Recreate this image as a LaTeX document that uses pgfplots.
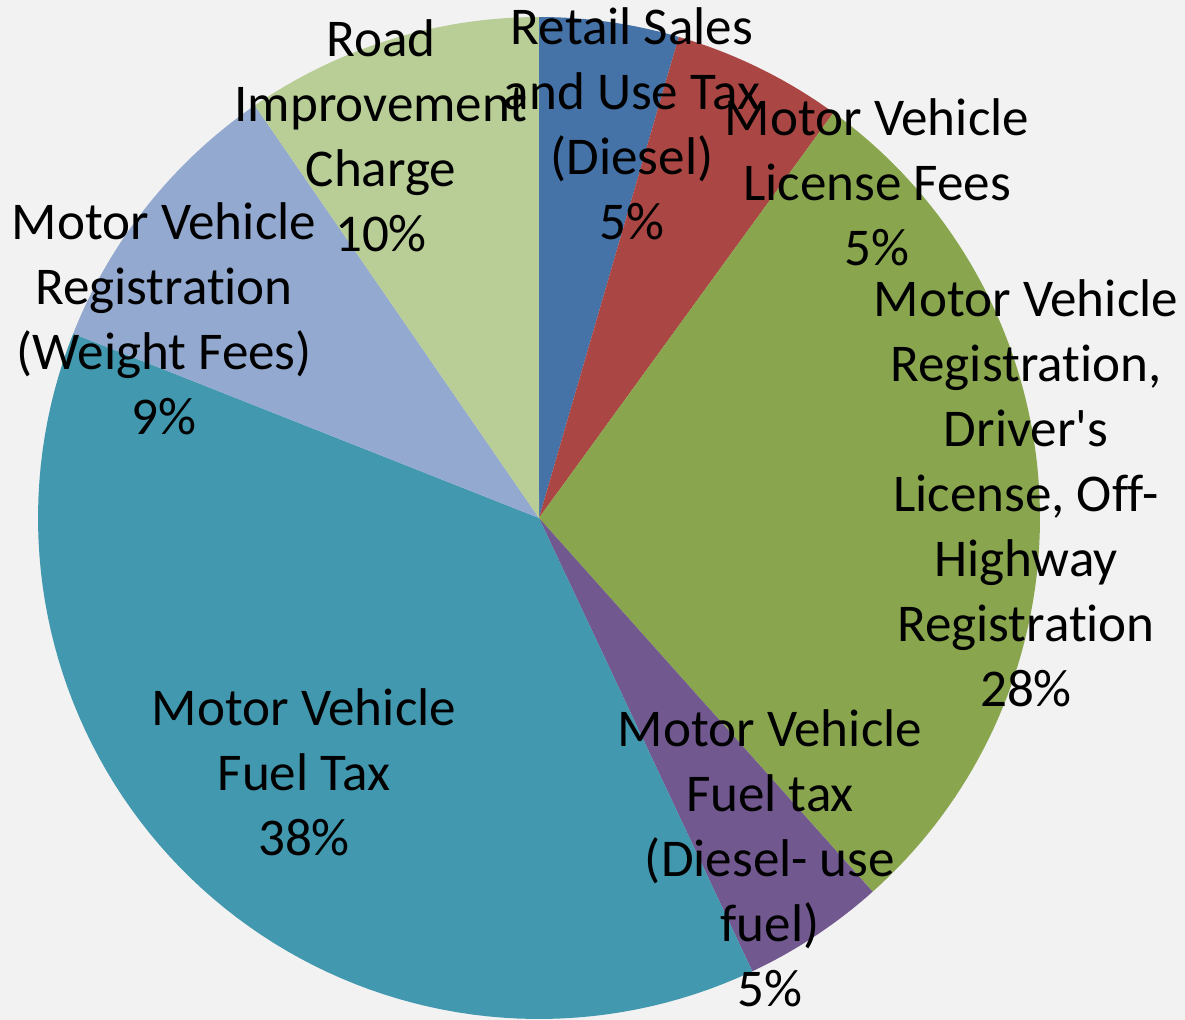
\documentclass[border=0pt]{standalone}
\usepackage{fontspec}
\setmainfont{Carlito}[Ligatures=NoCommon]
\usepackage{pgfplots}
\pgfplotsset{compat=1.18}
\definecolor{bg}{HTML}{F2F2F2}
\definecolor{cA}{HTML}{4572A7}
\definecolor{cB}{HTML}{AA4643}
\definecolor{cC}{HTML}{89A54E}
\definecolor{cD}{HTML}{71588F}
\definecolor{cE}{HTML}{4198AF}
\definecolor{cF}{HTML}{93A9CF}
\definecolor{cG}{HTML}{B9CD96}
\tikzset{lbl/.style={font=\fontsize{53.1bp}{65bp}\selectfont, align=center, inner sep=0pt, text=black}}
\begin{document}
\begin{tikzpicture}
\path[use as bounding box, fill=bg] (0,0) rectangle (1185bp,1020bp);
\begin{axis}[
  at={(0,0)}, anchor=south west,
  width=1185bp, height=1020bp, scale only axis,
  xmin=0, xmax=1185, ymin=0, ymax=1020,
  hide axis, clip=false,
  every axis plot/.append style={draw=none, samples=80, variable=\t}
]
% shares (percent), clockwise from 12 o'clock:
% 4.5, 5.5, 28.4, 4.6, 38.0, 9.4, 9.6
\addplot[fill=cA, domain={90-3.6*0}:{90-3.6*4.5}]   ({539+501*cos(\t)},{502+501*sin(\t)}) -- (axis cs:539,502) -- cycle;
\addplot[fill=cB, domain={90-3.6*4.5}:{90-3.6*10.0}]  ({539+501*cos(\t)},{502+501*sin(\t)}) -- (axis cs:539,502) -- cycle;
\addplot[fill=cC, domain={90-3.6*10.0}:{90-3.6*38.4}] ({539+501*cos(\t)},{502+501*sin(\t)}) -- (axis cs:539,502) -- cycle;
\addplot[fill=cD, domain={90-3.6*38.4}:{90-3.6*43.0}] ({539+501*cos(\t)},{502+501*sin(\t)}) -- (axis cs:539,502) -- cycle;
\addplot[fill=cE, domain={90-3.6*43.0}:{90-3.6*81.0}] ({539+501*cos(\t)},{502+501*sin(\t)}) -- (axis cs:539,502) -- cycle;
\addplot[fill=cF, domain={90-3.6*81.0}:{90-3.6*90.4}] ({539+501*cos(\t)},{502+501*sin(\t)}) -- (axis cs:539,502) -- cycle;
\addplot[fill=cG, domain={90-3.6*90.4}:{90-3.6*100}]  ({539+501*cos(\t)},{502+501*sin(\t)}) -- (axis cs:539,502) -- cycle;

\node[lbl] at (axis cs:381,884.5) {Road\\Improvement\\Charge\\10\%};
\node[lbl] at (axis cs:632,896.5) {Retail Sales\\and Use Tax\\(Diesel)\\5\%};
\node[lbl] at (axis cs:877,837.5) {Motor Vehicle\\License Fees\\5\%};
\node[lbl] at (axis cs:1026,527) {Motor Vehicle\\Registration,\\Driver\textquotesingle s\\License, Off-\\Highway\\Registration\\28\%};
\node[lbl] at (axis cs:770,162) {Motor Vehicle\\Fuel tax\\(Diesel- use\\fuel)\\5\%};
\node[lbl] at (axis cs:304,248) {Motor Vehicle\\Fuel Tax\\38\%};
\node[lbl] at (axis cs:164,701.5) {Motor Vehicle\\Registration\\(Weight Fees)\\9\%};
\end{axis}
\end{tikzpicture}
\end{document}
